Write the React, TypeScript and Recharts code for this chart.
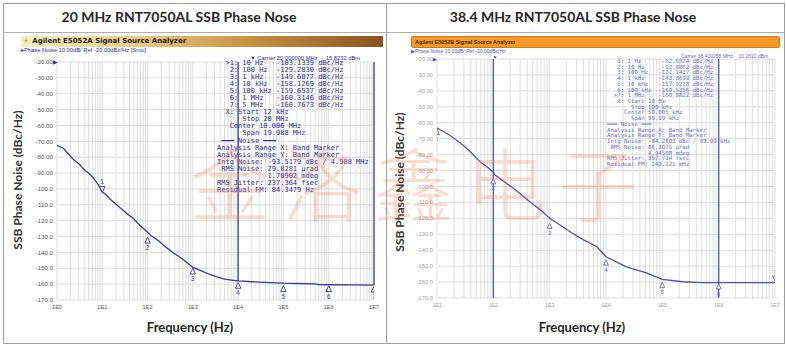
import React from 'react';
import { ComposedChart, Line, Scatter, XAxis, YAxis, CartesianGrid, ReferenceLine } from 'recharts';

// values
const DB_TICKS = [-170, -160, -150, -140, -130, -120, -110, -100, -90, -80, -70, -60, -50, -40, -30, -20];
const DECADES = [1, 10, 100, 1000, 10000, 100000, 1000000, 10000000];
const MULTS = [1, 2, 3, 4, 5, 6, 7, 8, 9];

const leftFreq = [1, 1.4, 1.8, 2.3, 3, 4.2, 5, 6.3, 8, 10, 12, 15, 19, 25, 35, 50, 68, 90, 120, 180, 260, 380, 520, 750, 1000, 1500, 2200, 3300, 5000, 7800, 10000, 20000, 50000, 100000, 200000, 500000, 600000, 1000000, 3000000, 10000000];
const leftDb = [-72.5, -74.5, -78, -81.5, -84, -88.5, -90, -93, -97, -102, -103.5, -106.5, -109, -112, -115.5, -119, -123, -126, -129.5, -133, -137, -140.5, -143, -146.5, -149.5, -151.5, -153.5, -155.2, -156.8, -157.6, -158, -158.5, -159, -159.4, -159.6, -159.8, -160.3, -160.4, -160.5, -160.6];

const rightFreq = [10, 13, 17, 22, 30, 39, 58, 76, 100, 107, 150, 224, 300, 445, 700, 1000, 1500, 2300, 4000, 6900, 10000, 23000, 52000, 100000, 230000, 500000, 1000000, 3000000, 10000000];
const rightDb = [-63.3, -65.5, -68, -70.8, -74.5, -78.2, -84.5, -87.5, -91, -92.8, -96.5, -101, -104.5, -109.6, -115, -120, -124, -128.4, -133.5, -137.8, -144.1, -150.4, -154.3, -158.3, -159.8, -160.3, -160.4, -160.4, -160.4];

const leftMarkFreq = [10, 100, 1000, 10000, 100000, 1000000, 10000000];
const leftMarkDb = [-100, -132.6, -152.1, -161.1, -163.2, -163.2, -163.5];
const leftMarkDir = ['down', 'up', 'up', 'up', 'up', 'up', 'up'];

const rightMarkFreq = [10, 100, 1000, 10000, 100000, 1000000, 10000000];
const rightMarkDb = [-66, -97, -125, -148, -162, -163, -157.5];
const rightMarkDir = ['up', 'up', 'up', 'up', 'up', 'up', 'down'];

const leftReadout = [
  '  >1: 10 Hz   -103.1339 dBc/Hz',
  '   2: 100 Hz  -129.2830 dBc/Hz',
  '   3: 1 kHz   -149.6077 dBc/Hz',
  '   4: 10 kHz  -158.1269 dBc/Hz',
  '   5: 100 kHz -159.6537 dBc/Hz',
  '   6: 1 MHz   -160.3146 dBc/Hz',
  '   7: 5 MHz   -160.7673 dBc/Hz',
  '  X: Start 12 kHz',
  '      Stop 20 MHz',
  '   Center 10.006 MHz',
  '      Span 19.988 MHz',
  ' ━━━ Noise ━━━',
  'Analysis Range X: Band Marker',
  'Analysis Range Y: Band Marker',
  'Intg Noise: -93.5179 dBc / 4.988 MHz',
  ' RMS Noise: 29.8281 µrad',
  '            1.70902 mdeg',
  'RMS Jitter: 237.364 fsec',
  'Residual FM: 84.3479 Hz',
];

const rightReadout = [
  '   1: 1 Hz      -62.6524 dBc/Hz',
  '   2: 10 Hz     -92.0062 dBc/Hz',
  '   3: 100 Hz   -122.1417 dBc/Hz',
  '   4: 1 kHz    -143.3699 dBc/Hz',
  '   5: 10 kHz   -157.9218 dBc/Hz',
  '   6: 100 kHz  -160.5356 dBc/Hz',
  '  >7: 1 MHz    -160.8822 dBc/Hz',
  '   X: Start 10 Hz',
  '       Stop 100 kHz',
  '     Center 50.005 kHz',
  '       Span 99.99 kHz',
  '━━━ Noise ━━━',
  'Analysis Range X: Band Marker',
  'Analysis Range Y: Band Marker',
  'Intg Noise: -84.2803 dBc / 99.99 kHz',
  ' RMS Noise: 86.3075 µrad',
  '            4.94508 mdeg',
  'RMS Jitter: 357.714 fsec',
  'Residual FM: 249.121 mHz',
];

const zip = (f: number[], d: number[]) => f.map((x, i) => ({ f: x, db: d[i] }));
const leftCurve = zip(leftFreq, leftDb);
const rightCurve = zip(rightFreq, rightDb);
const leftMarks = leftMarkFreq.map((f, i) => ({ f, db: leftMarkDb[i], n: String(i + 1), dir: leftMarkDir[i] }));
const rightMarks = rightMarkFreq.map((f, i) => ({ f, db: rightMarkDb[i], n: String(i + 1), dir: rightMarkDir[i] }));

// grid positions: 1..9 per decade
const gridTicks = (first: number) =>
  DECADES.filter(d => d >= first && d < 1e7).flatMap(d => MULTS.map(m => m * d)).concat([1e7]);
const labelTicks = (first: number) => DECADES.filter(d => d >= first);

const fmtFreq = (v: number) => (DECADES.includes(v) ? `1E${DECADES.indexOf(v)}` : '');
const fmtDb = (v: number) => (v >= -90 ? v.toFixed(2) : v.toFixed(1));

const makeMarker = (color: string, s: number, fs: number) => (props: any) => {
  const { cx, cy, payload } = props;
  if (cx == null || cy == null) return <g />;
  const up = payload.dir === 'up';
  const path = up
    ? `M${cx},${cy - s} L${cx + s * 0.8},${cy + s * 0.7} L${cx - s * 0.8},${cy + s * 0.7} Z`
    : `M${cx},${cy + s} L${cx + s * 0.8},${cy - s * 0.7} L${cx - s * 0.8},${cy - s * 0.7} Z`;
  return (
    <g>
      <path d={path} fill="#fff" stroke={color} strokeWidth={0.9} />
      <text
        x={cx}
        y={up ? cy + s + fs * 0.95 : cy - s - 1.5}
        textAnchor="middle"
        fontSize={fs}
        fill={color}
        fontFamily="Liberation Sans"
      >
        {payload.n}
      </text>
    </g>
  );
};

interface ChartProps {
  left: number;
  width: number;
  top: number;
  bottom: number;
  rightM: number;
  yW: number;
  first: number;
  curve: { f: number; db: number }[];
  marks: any[];
  curveColor: string;
  tickColor: string;
  tickFs: number;
  gridColor: string;
  markColor: string;
  markSize: number;
  bands: { f: number; y1: number; y2: number }[];
  bandColor: string;
}

const PhaseChart = (p: ChartProps) => (
  <div style={{ position: 'absolute', left: p.left, top: 0 }}>
    <ComposedChart width={p.width} height={347} margin={{ top: p.top, right: p.rightM, bottom: p.bottom, left: 0 }}>
      <CartesianGrid stroke={p.gridColor} strokeWidth={0.8} vertical={false} />
      <XAxis
        dataKey="f"
        type="number"
        scale="log"
        domain={[p.first, 1e7]}
        ticks={labelTicks(p.first)}
        interval={0}
        tickFormatter={fmtFreq}
        tickLine={false}
        axisLine={false}
        tickSize={0}
        tickMargin={5}
        height={15}
        allowDataOverflow
        tick={{ fontSize: p.tickFs, fill: p.tickColor, fontFamily: 'Liberation Sans' }}
      />
      <YAxis
        dataKey="db"
        type="number"
        domain={[-170, -20]}
        ticks={DB_TICKS}
        interval={0}
        tickFormatter={fmtDb}
        width={p.yW}
        tickLine={false}
        axisLine={false}
        tickSize={0}
        tickMargin={4}
        allowDataOverflow
        tick={{ fontSize: p.tickFs + 0.6, fill: p.tickColor, fontFamily: 'Liberation Sans' }}
      />
      {gridTicks(p.first).map(v => (
        <ReferenceLine key={`g${v}`} x={v} stroke={p.gridColor} strokeWidth={0.8} ifOverflow="extendDomain" />
      ))}
      {p.bands.map(b => (
        <ReferenceLine
          key={b.f}
          segment={[{ x: b.f, y: b.y1 }, { x: b.f, y: b.y2 }]}
          stroke={p.bandColor}
          strokeWidth={1.4}
        />
      ))}
      <Line
        data={p.curve}
        dataKey="db"
        type="linear"
        stroke={p.curveColor}
        strokeWidth={1.3}
        dot={false}
        isAnimationActive={false}
      />
      <Scatter data={p.marks} dataKey="db" shape={makeMarker(p.markColor, p.markSize, p.markSize + 3)} isAnimationActive={false} />
    </ComposedChart>
  </div>
);

const abs = (s: React.CSSProperties): React.CSSProperties => ({ position: 'absolute', ...s });

const VLabel = ({ cx, cy, text }: { cx: number; cy: number; text: string }) => (
  <div
    style={abs({
      left: cx - 80,
      top: cy - 7,
      width: 160,
      height: 14,
      lineHeight: '14px',
      textAlign: 'center',
      transform: 'rotate(-90deg)',
      fontFamily: 'Lato',
      fontWeight: 700,
      fontSize: 12,
      color: '#333',
      whiteSpace: 'nowrap',
    })}
  >
    {text}
  </div>
);

const HLabel = ({ cx, cy, text, size }: { cx: number; cy: number; text: string; size: number }) => (
  <div
    style={abs({
      left: cx - 200,
      top: cy - size * 0.7,
      width: 400,
      textAlign: 'center',
      lineHeight: `${size * 1.4}px`,
      fontFamily: 'Lato',
      fontWeight: 700,
      fontSize: size,
      color: '#262626',
      whiteSpace: 'nowrap',
    })}
  >
    {text}
  </div>
);

export default function App() {
  return (
    <div style={abs({ left: 0, top: 0, width: 786, height: 347, background: '#fff', overflow: 'hidden', fontFamily: 'Liberation Sans' })}>
      {/* frame */}
      <div style={abs({ left: 3, top: 3, width: 780, height: 339, border: '1px solid #a0a0a0' })} />
      <div style={abs({ left: 3, top: 32, width: 781, height: 1, background: '#b0b0b0' })} />
      <div style={abs({ left: 386, top: 3, width: 1, height: 340, background: '#a0a0a0' })} />

      <PhaseChart
        left={0}
        width={386}
        top={62}
        bottom={32}
        rightM={12}
        yW={57}
        first={1}
        curve={leftCurve}
        marks={leftMarks}
        curveColor="#3a3a98"
        tickColor="#555"
        tickFs={5.6}
        gridColor="#d4d4d4"
        markColor="#3a3a9c"
        markSize={3.4}
        bands={[
          { f: 10000, y1: -20, y2: -158 },
          { f: 10000000, y1: -20, y2: -160.6 },
        ]}
        bandColor="#4a4aa6"
      />
      <PhaseChart
        left={390}
        width={396}
        top={59}
        bottom={34}
        rightM={11}
        yW={47}
        first={10}
        curve={rightCurve}
        marks={rightMarks}
        curveColor="#5252a8"
        tickColor="#a0a0a0"
        tickFs={5.2}
        gridColor="#d6d6d6"
        markColor="#6a6ab8"
        markSize={3}
        bands={[
          { f: 100, y1: -20, y2: -170 },
          { f: 1000000, y1: -20, y2: -170 },
        ]}
        bandColor="#5a5ab0"
      />

      {/* titles */}
      <HLabel cx={179} cy={17} text="20 MHz RNT7050AL SSB Phase Nose" size={14} />
      <HLabel cx={573} cy={17} text="38.4 MHz RNT7050AL SSB Phase Nose" size={14} />

      {/* analyzer headers */}
      <div
        style={abs({
          left: 21,
          top: 36,
          width: 362,
          height: 11,
          background: 'linear-gradient(to right, #f8efc4 0%, #ecd088 30%, #c99444 62%, #8c5220 100%)',
          fontSize: 7,
          lineHeight: '11px',
          fontWeight: 700,
          color: '#1c1c1c',
          fontFamily: 'DejaVu Sans',
          whiteSpace: 'nowrap',
        })}
      >
        <span style={{ color: '#e2a21c', marginLeft: 2, marginRight: 3 }}>☀</span>Agilent E5052A Signal Source Analyzer
      </div>
      <div style={abs({ left: 21, top: 47, fontSize: 5.8, color: '#2d2d9a', whiteSpace: 'nowrap', lineHeight: '7px' })}>
        ▸Phase Noise 10.00dB/ Ref -20.00dBc/Hz [Smo]
      </div>
      <div style={abs({ left: 250, top: 54.5, fontSize: 5.8, color: '#2d2d9a', whiteSpace: 'nowrap', lineHeight: '7px' })}>
        ▼ Carrier 20.000000 MHz&nbsp;&nbsp;&nbsp;&nbsp;&nbsp;15.8232 dBm
      </div>
      <div style={abs({ left: 53, top: 59, fontSize: 6, color: '#2d2d9a', lineHeight: '7px' })}>▶</div>

      <div
        style={abs({
          left: 411,
          top: 36,
          width: 364,
          height: 10,
          background: '#f39a2a',
          border: '1px solid #d67814',
          borderRadius: 2,
          fontSize: 5.4,
          lineHeight: '10px',
          fontWeight: 700,
          color: '#4a2a08',
          paddingLeft: 3,
          whiteSpace: 'nowrap',
        })}
      >
        Agilent E5052B Signal Source Analyzer
      </div>
      <div style={abs({ left: 411, top: 48, fontSize: 5, color: '#5656b0', whiteSpace: 'nowrap', lineHeight: '6px' })}>
        ▶Phase Noise 10.00dB/ Ref -20.00dBc/Hz
      </div>
      <div style={abs({ left: 681, top: 53, fontSize: 5, color: '#6a6ac0', whiteSpace: 'nowrap', lineHeight: '6px' })}>
        Carrier 38.400258 MHz&nbsp;&nbsp;&nbsp;&nbsp;10.2610 dBm
      </div>
      <div style={abs({ left: 433, top: 56, fontSize: 5, color: '#4a4aa8', lineHeight: '6px' })}>▶</div>
      <div style={abs({ left: 492.5, top: 54, fontSize: 5, color: '#4a4aa8', lineHeight: '6px' })}>▼</div>

      {/* marker readouts */}
      <div
        style={abs({
          left: 217,
          top: 59.5,
          fontFamily: 'DejaVu Sans Mono',
          fontSize: 7,
          lineHeight: '7.1px',
          color: '#2d2d9a',
          whiteSpace: 'pre',
        })}
      >
        {leftReadout.join('\n')}
      </div>
      <div
        style={abs({
          left: 607,
          top: 59,
          fontFamily: 'DejaVu Sans Mono',
          fontSize: 5.7,
          lineHeight: '5.72px',
          color: '#6c6cc4',
          whiteSpace: 'pre',
        })}
      >
        {rightReadout.join('\n')}
      </div>

      {/* axis titles */}
      <VLabel cx={18} cy={180} text="SSB Phase Noise (dBc/Hz)" />
      <VLabel cx={400} cy={182} text="SSB Phase Noise (dBc/Hz)" />
      <HLabel cx={190} cy={327} text="Frequency (Hz)" size={13} />
      <HLabel cx={582} cy={327} text="Frequency (Hz)" size={13} />

      {/* watermark */}
      <div
        style={abs({
          left: 190,
          top: 138,
          fontFamily: 'Noto Sans CJK SC',
          fontSize: 80,
          fontWeight: 300,
          lineHeight: '84px',
          letterSpacing: 12,
          color: 'rgba(240, 130, 90, 0.28)',
          whiteSpace: 'nowrap',
          pointerEvents: 'none',
        })}
      >
        金洛鑫电子
      </div>
    </div>
  );
}
